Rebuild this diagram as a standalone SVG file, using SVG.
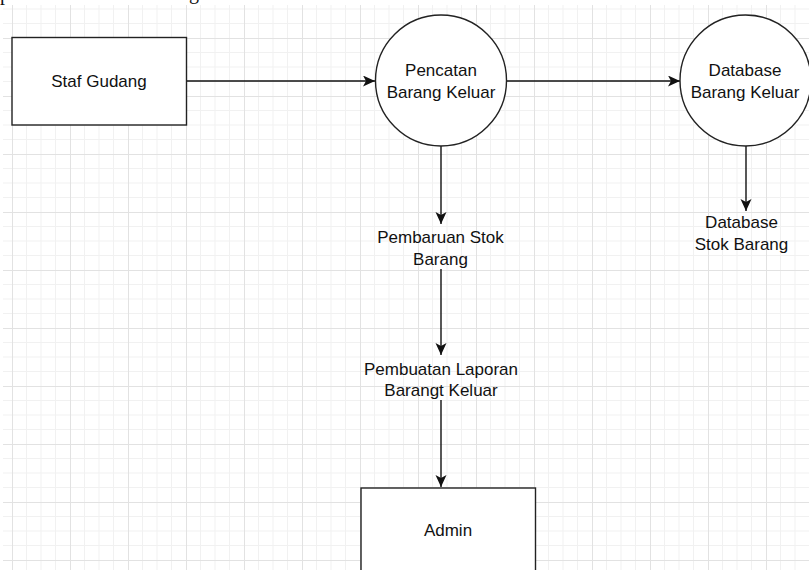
<svg xmlns="http://www.w3.org/2000/svg" width="809" height="570" viewBox="0 0 809 570">
  <defs>
    <pattern id="grid" patternUnits="userSpaceOnUse" x="12" y="38" width="58" height="58">
      <path d="M14.5 0V58M29 0V58M43.5 0V58M0 14.5H58M0 29H58M0 43.5H58" stroke="#f1f1f1" stroke-width="1" fill="none"/>
      <path d="M0.5 0V58M0 0.5H58" stroke="#e2e2e2" stroke-width="1" fill="none"/>
    </pattern>
    <marker id="arrow" markerUnits="userSpaceOnUse" markerWidth="13" markerHeight="12" refX="12" refY="5.5" orient="auto">
      <path d="M0,0 L12,5.5 L0,11 L3,5.5 Z" fill="#111"/>
    </marker>
  </defs>
  <style>
    .lbl { font-family: "Liberation Sans", Arial, sans-serif; font-size: 17px; fill: #111; text-anchor: middle; }
    .shape { fill: #fff; stroke: #222; stroke-width: 1.4; }
    .conn { stroke: #111; stroke-width: 1.4; fill: none; }
    .frag { font-family: "Liberation Serif", "Times New Roman", serif; font-size: 20px; fill: #111; }
  </style>
  <rect width="809" height="570" fill="#fff"/>
  <rect x="3" y="5" width="806" height="565" fill="url(#grid)"/>
  <text class="frag" x="0" y="-0.5">p</text>
  <text class="frag" x="189" y="-1">g</text>

  <g id="connectors">
    <line class="conn" x1="186" y1="81" x2="375" y2="81" marker-end="url(#arrow)"/>
    <line class="conn" x1="507" y1="81" x2="680" y2="81" marker-end="url(#arrow)"/>
    <line class="conn" x1="441" y1="146" x2="441" y2="224" marker-end="url(#arrow)"/>
    <line class="conn" x1="441" y1="269" x2="441" y2="355" marker-end="url(#arrow)"/>
    <line class="conn" x1="441" y1="400" x2="441" y2="487" marker-end="url(#arrow)"/>
    <line class="conn" x1="746" y1="146" x2="746" y2="211" marker-end="url(#arrow)"/>
  </g>

  <g id="staf-gudang">
    <rect class="shape" x="12" y="37.5" width="174.5" height="87.5"/>
    <text class="lbl" x="99" y="87">Staf Gudang</text>
  </g>
  <g id="pencatan">
    <circle class="shape" cx="441" cy="80.5" r="65.5"/>
    <text class="lbl" x="441" y="76">Pencatan</text>
    <text class="lbl" x="441" y="98">Barang Keluar</text>
  </g>
  <g id="database-barang-keluar">
    <circle class="shape" cx="745.5" cy="80.5" r="65.5"/>
    <text class="lbl" x="745" y="76">Database</text>
    <text class="lbl" x="745" y="98">Barang Keluar</text>
  </g>
  <g id="pembaruan-stok">
    <text class="lbl" x="440.5" y="243">Pembaruan Stok</text>
    <text class="lbl" x="440.5" y="265">Barang</text>
  </g>
  <g id="pembuatan-laporan">
    <text class="lbl" x="441" y="375">Pembuatan Laporan</text>
    <text class="lbl" x="441" y="396">Barangt Keluar</text>
  </g>
  <g id="database-stok">
    <text class="lbl" x="741.5" y="228">Database</text>
    <text class="lbl" x="741.5" y="250">Stok Barang</text>
  </g>
  <g id="admin">
    <rect class="shape" x="361" y="488" width="174.5" height="88"/>
    <text class="lbl" x="448" y="536">Admin</text>
  </g>
</svg>
